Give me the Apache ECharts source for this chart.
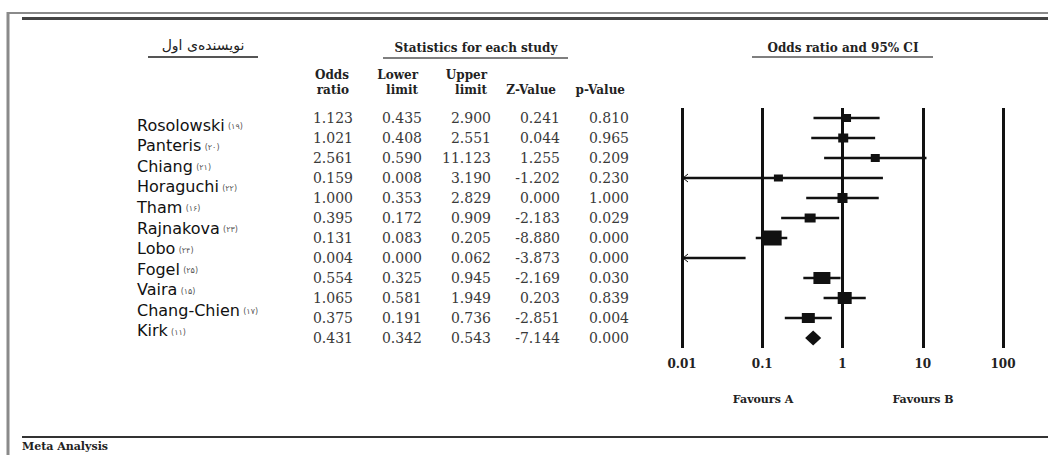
<!DOCTYPE html>
<html><head><meta charset="utf-8">
<script src="https://cdn.jsdelivr.net/npm/echarts@6/dist/echarts.min.js"></script>
<style>html,body{margin:0;padding:0;background:#fff}#c{width:1052px;height:455px}</style>
</head><body><div id="c"></div>
<script>
// ---- data ----
const studies = ['Rosolowski','Panteris','Chiang','Horaguchi','Tham','Rajnakova','Lobo','Fogel','Vaira','Chang-Chien','Kirk'];
const refs = ['۱۹','۲۰','۲۱','۲۲','۱۶','۲۳','۲۴','۲۵','۱۵','۱۷','۱۱'];
const oddsRatio  = [1.123, 1.021, 2.561, 0.159, 1.000, 0.395, 0.131, 0.004, 0.554, 1.065, 0.375, 0.431];
const lowerLimit = [0.435, 0.408, 0.590, 0.008, 0.353, 0.172, 0.083, 0.000, 0.325, 0.581, 0.191, 0.342];
const upperLimit = [2.900, 2.551, 11.123, 3.190, 2.829, 0.909, 0.205, 0.062, 0.945, 1.949, 0.736, 0.543];
const zValue     = [0.241, 0.044, 1.255, -1.202, 0.000, -2.183, -8.880, -3.873, -2.169, 0.203, -2.851, -7.144];
const pValue     = [0.810, 0.965, 0.209, 0.230, 1.000, 0.029, 0.000, 0.000, 0.030, 0.839, 0.004, 0.000];
const tableHeaders = ['Odds\nratio','Lower\nlimit','Upper\nlimit','Z-Value','p-Value'];
const axisTicks = [0.01, 0.1, 1, 10, 100];

// ---- style (marker box sizes per row, px) ----
const boxSize = [[9,8],[10,9],[9,8],[9,7],[10,10],[11,9],[20,15],[0,0],[17,12],[14,12],[13,10],[0,15]];

const SERIF = '"DejaVu Serif", serif';
const SANS = '"DejaVu Sans", sans-serif';
const nRows = oddsRatio.length;
const pooled = nRows - 1;
const tableCols = [oddsRatio, lowerLimit, upperLimit, zValue, pValue];

const tableData = [];
tableCols.forEach((col, c) => col.forEach((v, r) => tableData.push([c, r, v.toFixed(3)])));
const forestData = oddsRatio.map((v, i) => [v, lowerLimit[i], upperLimit[i], i]);
const nameData = studies.map((s, i) => [0, i, s, refs[i]]);

const chart = echarts.init(document.getElementById('c'), null, {renderer: 'svg'});
const rowAxis = {type: 'value', min: -0.5, max: nRows - 0.5, inverse: true, show: false};

chart.setOption({
  animation: false,
  backgroundColor: '#fff',
  grid: [
    {left: 682, right: 49, top: 108, height: 240},   // forest
    {left: 353, right: 423, top: 108, height: 240},  // table
    {left: 137, width: 150, top: 115, height: 226}   // names
  ],
  xAxis: [
    {type: 'log', logBase: 10, gridIndex: 0, min: axisTicks[0], max: axisTicks[axisTicks.length - 1],
     axisLine: {show: false}, axisTick: {show: false},
     splitLine: {show: true, showMinLine: true, showMaxLine: true, lineStyle: {color: '#111', width: 3}},
     axisLabel: {margin: 10, color: '#222', fontFamily: SERIF, fontWeight: 'bold', fontSize: 12,
       formatter: v => String(parseFloat(Number(v).toPrecision(6)))}},
    {type: 'category', gridIndex: 1, position: 'top', boundaryGap: false, data: tableHeaders,
     axisLine: {show: false}, axisTick: {show: false}, splitLine: {show: false},
     axisLabel: {interval: 0, align: 'right', margin: 11, lineHeight: 15, color: '#222',
       fontFamily: SERIF, fontWeight: 'bold', fontSize: 12, padding: [0, 4, 0, 0]}},
    {type: 'value', gridIndex: 2, min: 0, max: 1, show: false}
  ],
  yAxis: [
    Object.assign({gridIndex: 0}, rowAxis),
    Object.assign({gridIndex: 1}, rowAxis),
    {type: 'value', gridIndex: 2, min: -0.5, max: studies.length - 0.5, inverse: true, show: false}
  ],
  series: [
    {
      type: 'custom', xAxisIndex: 0, yAxisIndex: 0, data: forestData, clip: false,
      encode: {x: 0, y: 3},
      renderItem: function (params, api) {
        const i = params.dataIndex;
        const or = api.value(0), lo = api.value(1), hi = api.value(2), row = api.value(3);
        const xmin = axisTicks[0], xmax = axisTicks[axisTicks.length - 1];
        const pLo = api.coord([Math.max(lo, xmin), row]);
        const pHi = api.coord([Math.min(hi, xmax), row]);
        const y = pLo[1];
        const children = [];
        const sz = boxSize[i];
        if (i === pooled) {
          const pc = api.coord([or, row]);
          const h = sz[1] / 2;
          children.push({type: 'polygon', shape: {points: [[pLo[0], y], [pc[0], y - h], [pHi[0], y], [pc[0], y + h]]},
            style: {fill: '#111'}});
          return {type: 'group', children};
        }
        children.push({type: 'line', shape: {x1: pLo[0], y1: y, x2: pHi[0], y2: y},
          style: {stroke: '#111', lineWidth: 2.5}});
        if (lo < xmin) {
          children.push({type: 'polyline', shape: {points: [[pLo[0] + 6, y - 4], [pLo[0] + 1, y], [pLo[0] + 6, y + 4]]},
            style: {stroke: '#111', lineWidth: 1, fill: null}});
        }
        if (or >= xmin && or <= xmax) {
          const pc = api.coord([or, row]);
          children.push({type: 'rect', shape: {x: pc[0] - sz[0] / 2, y: y - sz[1] / 2, width: sz[0], height: sz[1]},
            style: {fill: '#111'}});
        }
        return {type: 'group', children};
      }
    },
    {
      type: 'custom', xAxisIndex: 1, yAxisIndex: 1, data: tableData, clip: false,
      encode: {x: 0, y: 1},
      renderItem: function (params, api) {
        const p = api.coord([api.value(0), api.value(1)]);
        return {type: 'text', x: p[0], y: p[1],
          style: {text: tableData[params.dataIndex][2], align: 'right', verticalAlign: 'middle',
            fontFamily: SERIF, fontSize: 14, fill: '#3a3a3a'}};
      }
    },
    {
      type: 'custom', xAxisIndex: 2, yAxisIndex: 2, data: nameData, clip: false,
      encode: {x: 0, y: 1},
      renderItem: function (params, api) {
        const p = api.coord([0, api.value(1)]);
        const d = nameData[params.dataIndex];
        return {type: 'text', x: p[0], y: p[1],
          style: {text: '{n|' + d[2] + '} {c|(' + d[3] + ')}', align: 'left', verticalAlign: 'middle',
            rich: {n: {fontFamily: SANS, fontSize: 16, fill: '#111', fontWeight: 'normal'},
                   c: {fontFamily: SANS, fontSize: 8, fill: '#555', padding: [3, 0, 0, 0]}}}};
      }
    }
  ],
  graphic: [
    // frame
    {type: 'line', shape: {x1: 7, y1: 13, x2: 1048, y2: 13}, style: {stroke: '#8a8a8a', lineWidth: 2}},
    {type: 'line', shape: {x1: 22, y1: 18.5, x2: 1048, y2: 18.5}, style: {stroke: '#444', lineWidth: 3}},
    {type: 'line', shape: {x1: 8, y1: 12, x2: 8, y2: 455}, style: {stroke: '#8a8a8a', lineWidth: 3}},
    {type: 'line', shape: {x1: 22, y1: 437, x2: 1048, y2: 437}, style: {stroke: '#333', lineWidth: 2}},
    // headers
    {type: 'text', x: 203, y: 45, style: {text: 'نویسنده‌ی اول', align: 'center', verticalAlign: 'middle',
      fontFamily: SANS, fontSize: 14, fill: '#222'}},
    {type: 'line', shape: {x1: 148, y1: 57, x2: 258, y2: 57}, style: {stroke: '#555', lineWidth: 2}},
    {type: 'text', x: 476, y: 48, style: {text: 'Statistics for each study', align: 'center', verticalAlign: 'middle',
      fontFamily: SERIF, fontWeight: 'bold', fontSize: 12, fill: '#222'}},
    {type: 'line', shape: {x1: 383, y1: 58, x2: 568, y2: 58}, style: {stroke: '#555', lineWidth: 1.5}},
    {type: 'text', x: 843, y: 48, style: {text: 'Odds ratio and 95% CI', align: 'center', verticalAlign: 'middle',
      fontFamily: SERIF, fontWeight: 'bold', fontSize: 12, fill: '#222'}},
    {type: 'line', shape: {x1: 752, y1: 57, x2: 933, y2: 57}, style: {stroke: '#555', lineWidth: 1.5}},
    {type: 'text', x: 763, y: 399, style: {text: 'Favours A', align: 'center', verticalAlign: 'middle',
      fontFamily: SERIF, fontWeight: 'bold', fontSize: 11, fill: '#222'}},
    {type: 'text', x: 923, y: 399, style: {text: 'Favours B', align: 'center', verticalAlign: 'middle',
      fontFamily: SERIF, fontWeight: 'bold', fontSize: 11, fill: '#222'}},
    {type: 'text', x: 22, y: 441, style: {text: 'Meta Analysis', align: 'left', verticalAlign: 'top',
      fontFamily: SERIF, fontWeight: 'bold', fontSize: 11, fill: '#222'}}
  ]
});
</script>
</body></html>
